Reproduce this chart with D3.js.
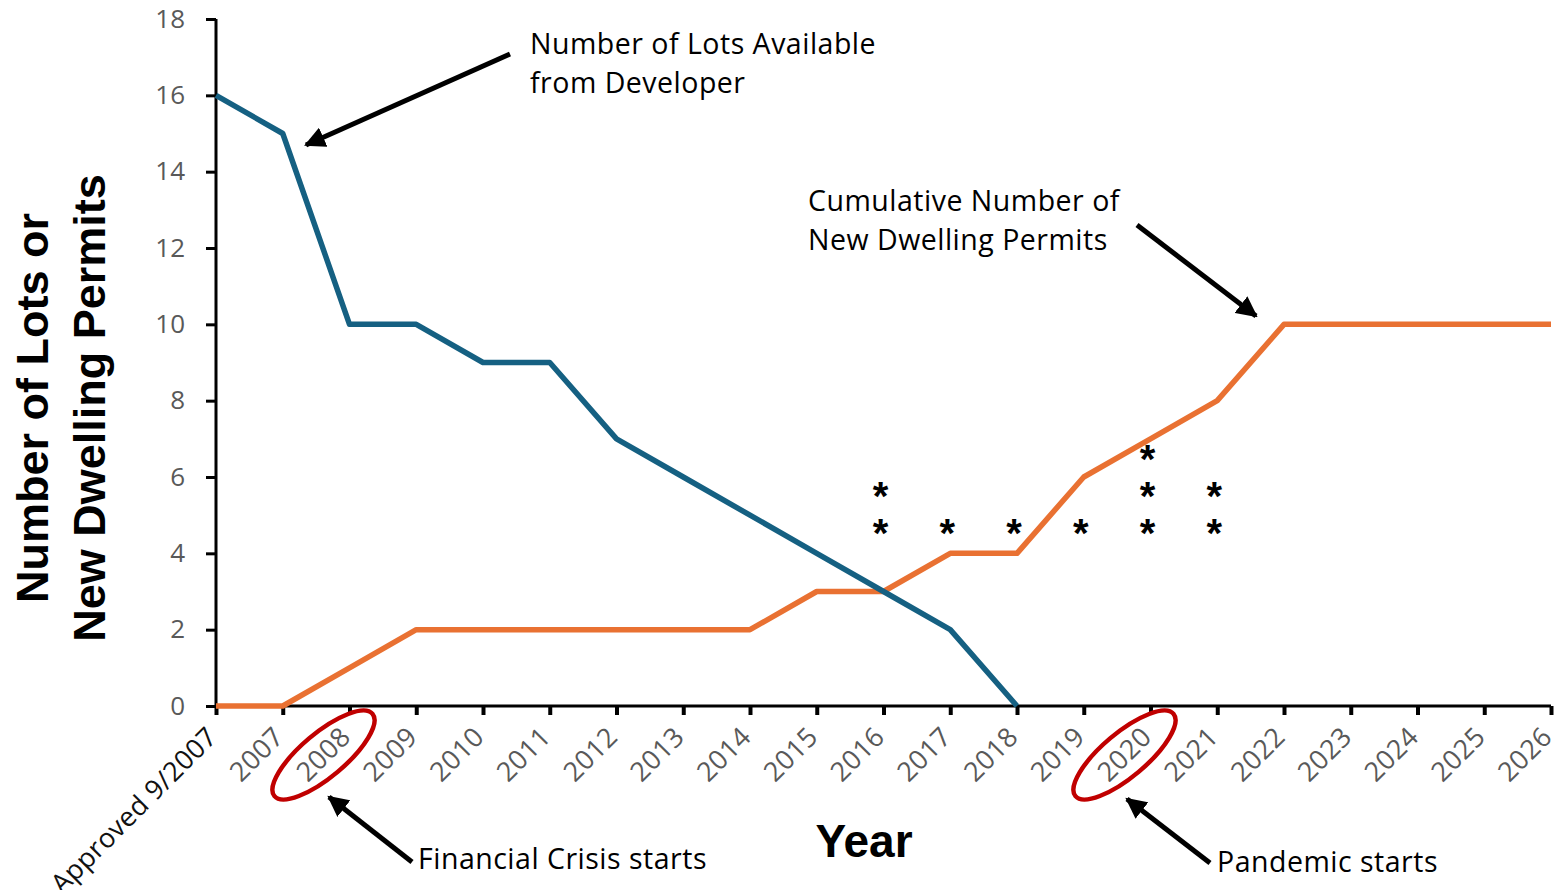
<!DOCTYPE html>
<html>
<head>
<meta charset="utf-8">
<script src="https://cdn.jsdelivr.net/npm/d3@7"></script>
<style>
  html, body { margin: 0; padding: 0; background: #fff; }
  svg { display: block; }
</style>
</head>
<body>
<svg id="chart" width="1557" height="890"></svg>
<script>
// ---------- data ----------
const categories = ["Approved 9/2007", "2007", "2008", "2009", "2010", "2011", "2012", "2013",
  "2014", "2015", "2016", "2017", "2018", "2019", "2020", "2021", "2022", "2023", "2024", "2025", "2026"];
const lotsAvailable = [16, 15, 10, 10, 9, 9, 7, 6, 5, 4, 3, 2, 0];            // Approved .. 2018
const cumulativePermits = [0, 0, 1, 2, 2, 2, 2, 2, 2, 3, 3, 4, 4, 6, 7, 8, 10, 10, 10, 10, 10];
const yTicks = [0, 2, 4, 6, 8, 10, 12, 14, 16, 18];
const starYears = ["2016", "2017", "2018", "2019", "2020", "2021"];
const starCounts = [2, 1, 1, 1, 3, 2];
const circledYears = ["2008", "2020"];

// ---------- layout ----------
const plotL = 216, plotR = 1551, plotT = 19, plotB = 706;
const svg = d3.select("#chart");

const x = d3.scalePoint().domain(categories).range([plotL, plotR]);
const y = d3.scaleLinear().domain([0, 18]).range([plotB, plotT]);

const labelFont = "'Open Sans', 'Noto Sans', sans-serif";
const boldFont = "'Liberation Sans', Arial, sans-serif";

// defs: arrowhead
svg.append("defs").append("marker")
  .attr("id", "ah").attr("viewBox", "0 0 10 10").attr("refX", 9).attr("refY", 5)
  .attr("markerWidth", 4.2).attr("markerHeight", 4.2).attr("markerUnits", "strokeWidth")
  .attr("orient", "auto")
  .append("path").attr("d", "M0,0 L10,5 L0,10 z").attr("fill", "#000");

// ---------- axes ----------
const yAxis = svg.append("g").attr("transform", `translate(${plotL},0)`)
  .call(d3.axisLeft(y).tickValues(yTicks).tickSize(10).tickPadding(21));
yAxis.select(".domain").attr("stroke", "#000").attr("stroke-width", 3).attr("d", `M0,${plotT}V${plotB}`);
yAxis.selectAll(".tick line").attr("stroke", "#000").attr("stroke-width", 3);
yAxis.selectAll(".tick text").attr("fill", "#595959").attr("font-size", 26)
  .attr("font-family", labelFont);

const xAxis = svg.append("g").attr("transform", `translate(0,${plotB})`)
  .call(d3.axisBottom(x).tickSize(9).tickFormat(""));
xAxis.select(".domain").attr("stroke", "#000").attr("stroke-width", 3).attr("d", `M${plotL},0H${plotR}`);
xAxis.selectAll(".tick line").attr("stroke", "#000").attr("stroke-width", 4);

// rotated category labels
svg.append("g").selectAll("text").data(categories).join("text")
  .attr("transform", d => `translate(${x(d) - 4},${plotB + 26}) rotate(-45)`)
  .attr("text-anchor", "end").attr("dy", "0.35em")
  .attr("font-family", labelFont).attr("font-size", 27).attr("letter-spacing", 0.3)
  .attr("fill", (d, i) => i === 0 ? "#111" : "#595959")
  .text(d => d);

// axis titles
svg.append("text").attr("x", 864).attr("y", 857).attr("text-anchor", "middle")
  .attr("font-family", boldFont).attr("font-weight", "bold")
  .attr("font-size", 46).attr("fill", "#000").text("Year");

const yt = svg.append("text").attr("transform", "translate(0,408) rotate(-90)")
  .attr("text-anchor", "middle")
  .attr("font-family", boldFont).attr("font-weight", "bold")
  .attr("font-size", 45).attr("fill", "#000");
yt.append("tspan").attr("x", 0).attr("y", 48).text("Number of Lots or");
yt.append("tspan").attr("x", 0).attr("y", 105).text("New Dwelling Permits");

// ---------- lines ----------
const line = d3.line().x(d => x(d.c)).y(d => y(d.v));
svg.append("path")
  .datum(cumulativePermits.map((v, i) => ({ c: categories[i], v })))
  .attr("fill", "none").attr("stroke", "#E97132").attr("stroke-width", 5.5)
  .attr("stroke-linejoin", "round").attr("d", line);
svg.append("path")
  .datum(lotsAvailable.map((v, i) => ({ c: categories[i], v })))
  .attr("fill", "none").attr("stroke", "#156082").attr("stroke-width", 5.5)
  .attr("stroke-linejoin", "round").attr("d", line);

// ---------- asterisks ----------
const stars = [];
starYears.forEach((yr, i) => { for (let k = 0; k < starCounts[i]; k++) stars.push({ yr, k }); });
svg.append("g").selectAll("text").data(stars).join("text")
  .attr("x", d => x(d.yr) - 3)
  .attr("y", d => y(4.69 + d.k * 0.97) + 20)
  .attr("text-anchor", "middle")
  .attr("font-family", boldFont).attr("font-weight", "bold")
  .attr("font-size", 40).attr("fill", "#000").text("*");

// ---------- circled years ----------
svg.append("g").selectAll("ellipse").data(circledYears).join("ellipse")
  .attr("transform", d => `translate(${x(d) - 26},${plotB + 49}) rotate(-40)`)
  .attr("rx", 64).attr("ry", 22)
  .attr("fill", "none").attr("stroke", "#C00000").attr("stroke-width", 4.5);

// ---------- annotations ----------
function ann(lines, x0, y0) {
  const t = svg.append("text").attr("font-family", labelFont).attr("font-size", 28.5)
    .attr("letter-spacing", 0.5).attr("fill", "#000");
  lines.forEach((s, i) => t.append("tspan").attr("x", x0).attr("y", y0 + i * 39).text(s));
}
ann(["Number of Lots Available", "from Developer"], 530, 54);
ann(["Cumulative Number of", "New Dwelling Permits"], 808, 211);
ann(["Financial Crisis starts"], 418, 869);
ann(["Pandemic starts"], 1217, 872);

function arrow(x1, y1, x2, y2) {
  svg.append("line").attr("x1", x1).attr("y1", y1).attr("x2", x2).attr("y2", y2)
    .attr("stroke", "#000").attr("stroke-width", 5).attr("marker-end", "url(#ah)");
}
arrow(510, 54, 306, 145);
arrow(1137, 225, 1256, 316);
arrow(412, 862, 329, 797);
arrow(1210, 863, 1127, 799);
</script>
</body>
</html>
